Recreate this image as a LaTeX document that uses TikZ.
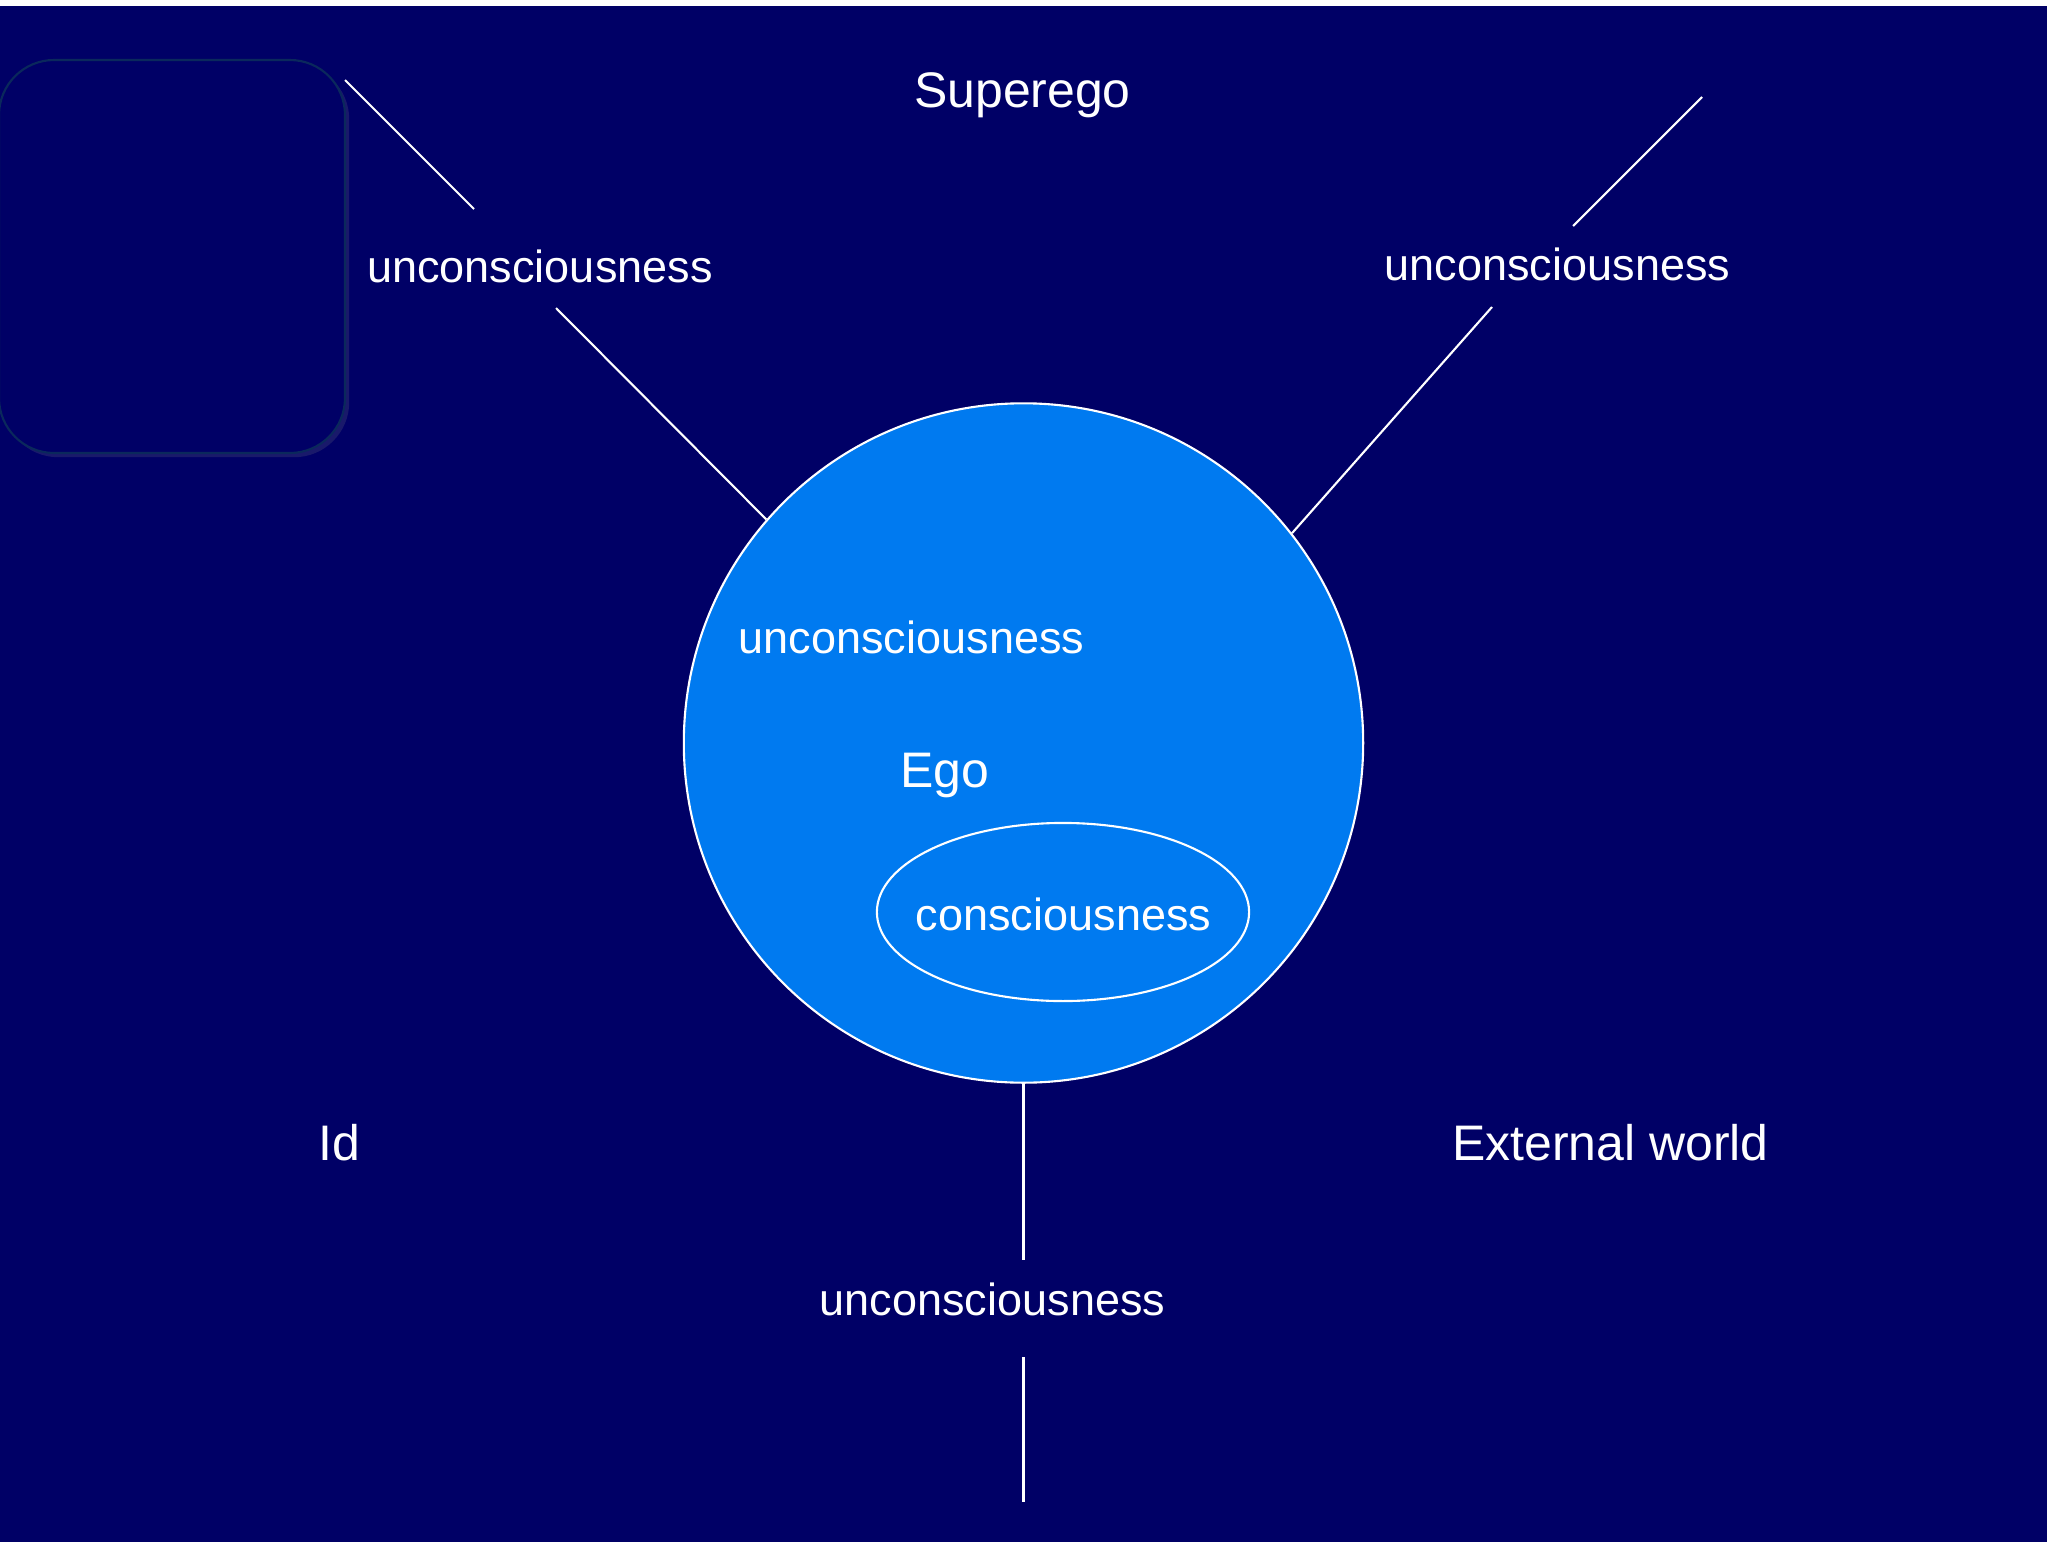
\documentclass[tikz,border=0pt]{standalone}
\usepackage{fontspec}
\setmainfont{Liberation Sans}
\usetikzlibrary{shapes.geometric,shadows}
\definecolor{navy}{RGB}{0,0,102}
\definecolor{egoblue}{RGB}{0,122,240}
\definecolor{boxrim}{RGB}{10,40,92}
\begin{document}
\begin{tikzpicture}[x=0.01cm, y=-0.01cm,
        lbl/.style={text=white, font=\fontsize{12.8pt}{15pt}\selectfont, anchor=base, inner sep=0pt},
        big/.style={lbl, font=\fontsize{14.2pt}{17pt}\selectfont},
        link/.style={draw=white, line width=0.6pt}]

        \useasboundingbox (0,0) rectangle (2047,1542);
        \fill[navy] (0,0) rectangle (2047,1542);
        \fill[white] (0,0) rectangle (2047,6);

        \draw[boxrim, line width=0.6pt, fill=navy, rounded corners=0.55cm,
            drop shadow={opacity=0.2, shadow xshift=1.2pt, shadow yshift=-1.2pt}]
            (-1,60) rectangle (345,453);

        \node[circle, draw=white, fill=egoblue, line width=0.6pt, minimum size=6.79cm, inner sep=0pt] (ego) at (1023.5,743) {};
        \node[ellipse, draw=white, line width=0.6pt, minimum width=3.72cm, minimum height=1.78cm, inner sep=0pt] (cons) at (1063,912) {};
        \node[lbl] (conslbl) at (1063.5,930) {consciousness};

        \node[big] (superego) at (1022.5,107) {Superego};
        \node[lbl] (uleft) at (540,282) {unconsciousness};
        \node[lbl] (uright) at (1557.5,280) {unconsciousness};
        \node[lbl] (uinner) at (911.5,653) {unconsciousness};
        \node[big] (egolbl) at (945,787) {Ego};
        \node[big] (id) at (339.5,1160) {Id};
        \node[big] (extworld) at (1610.5,1160) {External world};
        \node[lbl] (ubottom) at (992.5,1315) {unconsciousness};

        \coordinate (ul1) at (345,80);
        \coordinate (ul2) at (474,209);
        \coordinate (ul3) at (556,308);
        \coordinate (ur1) at (1702,97);
        \coordinate (ur2) at (1573,226);
        \coordinate (ur3) at (1492,307);
        \coordinate (ub1) at (1023.5,1260);
        \coordinate (ub2) at (1023.5,1357);
        \coordinate (ub3) at (1023.5,1502);

        \draw[link] (ego.139) -- (ul3) (ul2) -- (ul1);
        \draw[link] (ego.38) -- (ur3) (ur2) -- (ur1);
        \draw[link] (ego.south) -- (ub1) (ub2) -- (ub3);
\end{tikzpicture}
\end{document}
